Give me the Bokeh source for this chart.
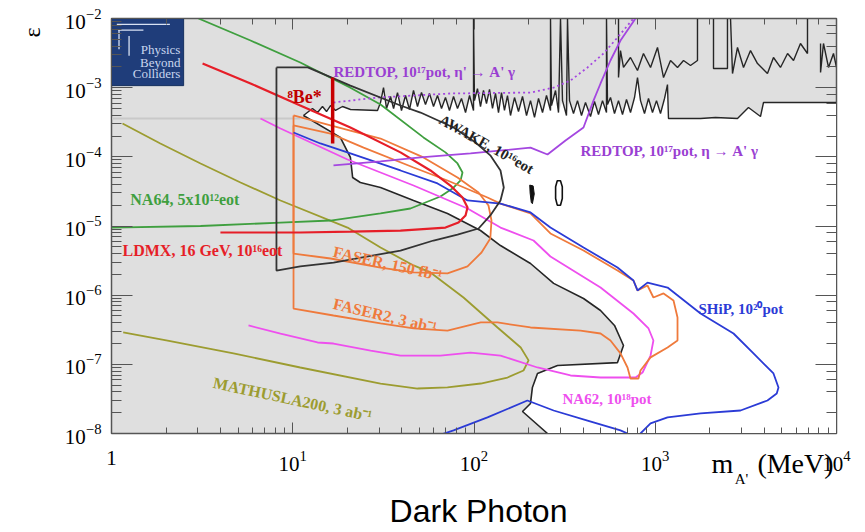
import numpy as np
from bokeh.plotting import figure
from bokeh.models import LogAxis, Label, Range1d, LogTickFormatter, FixedTicker
from bokeh.embed import file_html
from bokeh.resources import INLINE

# ---------------- data (m in MeV, epsilon) ----------------
# upper unexplored-region boundary (jagged existing limits)
jag_m = [11.46, 12.85, 13.70, 14.59, 15.36, 16.16, 17.21, 18.82, 20.83, 29.35,
         30.49, 31.68, 32.91, 34.62, 36.0, 37.84, 39.81, 41.89, 44.07, 46.37,
         48.79, 51.32, 54.0, 56.8, 59.8, 62.9, 66.2, 69.6, 73.2, 77.1,
         81.1, 85.3, 89.8, 94.5, 99.4, 99.4, 100.6, 104.5, 108.6, 112.8,
         117.2, 121.8, 126.5, 131.4, 136.5, 141.8, 147.3, 153.0, 159.0, 167.3,
         176.0, 185.2, 194.9, 205, 215.7, 227.0, 238.8, 251.2, 264.3, 264.3,
         267.7, 281.7, 292.6, 300.1, 307.8, 323.8, 328.0, 336.5, 354.0, 372.4,
         391.8, 412.3, 439.3, 462.2, 486.3, 511.7, 538.3, 538.3, 545.3, 566.4,
         596.0, 627.0, 659.7, 694.1, 730.3, 768.4, 798.2, 829.2, 872.4, 917.9,
         965.7, 1016, 1069, 1125, 1168, 1183, 1777, 2150, 2843, 3269,
         3808, 3956, 10000]
jag_eps = [3.96e-4, 5.0e-4, 4.37e-4, 5.34e-4, 4.52e-4, 5.52e-4, 4.68e-4, 5.34e-4, 4.83e-4, 4.68e-4,
           6.1e-4, 1.0e-3, 5.0e-4, 7.45e-4, 5.0e-4, 8.5e-4, 4.68e-4, 7.7e-4, 4.83e-4, 9.1e-4,
           5.34e-4, 8.5e-4, 5.71e-4, 8.24e-4, 5.34e-4, 7.7e-4, 5.0e-4, 7.2e-4, 4.68e-4, 7.45e-4,
           5.0e-4, 6.97e-4, 4.37e-4, 7.7e-4, 4.68e-4, 1e-2, 6.5e-4, 9.7e-4, 5.34e-4, 9.1e-4,
           5.9e-4, 9.42e-4, 5.0e-4, 8.24e-4, 4.37e-4, 8.5e-4, 4.68e-4, 7.7e-4, 3.96e-4, 7.2e-4,
           4.52e-4, 7.45e-4, 3.96e-4, 6.5e-4, 3.71e-4, 6.97e-4, 4.37e-4, 7.7e-4, 4.68e-4, 1e-2,
           5.52e-4, 9.1e-4, 4.37e-4, 1e-2, 6.5e-4, 3.96e-4, 1e-2, 6.5e-4, 4.23e-4, 6.5e-4,
           3.96e-4, 6.1e-4, 3.83e-4, 6.31e-4, 4.09e-4, 6.5e-4, 4.37e-4, 1e-2, 5.71e-4, 7.2e-4,
           4.23e-4, 6.5e-4, 4.09e-4, 6.74e-4, 4.37e-4, 7.2e-4, 1.40e-3, 6.5e-4, 4.23e-4, 6.97e-4,
           4.37e-4, 6.5e-4, 4.23e-4, 6.97e-4, 1.11e-3, 3.58e-4, 3.58e-4, 3.71e-4, 3.58e-4, 5.16e-4,
           3.83e-4, 6.1e-4, 6.1e-4]

# lower boundary of the unexplored region (beam-dump limits), right to left
low_m = [10000, 254.4, 185.2, 205, 210, 224, 288.9, 619, 668, 596, 499, 402, 275,
         205, 140, 108.6, 71.4, 46.4, 30.5, 23.6, 21.4, 20.8, 18.3, 11.46]
low_eps = [1e-8, 1e-8, 2.08e-8, 2.72e-8, 4.63e-8, 7.38e-8, 9.62e-8, 1.06e-7, 1.87e-7,
           3.65e-7, 6.0e-7, 8.95e-7, 1.48e-6, 2.87e-6, 5.22e-6, 8.61e-6, 1.52e-5,
           2.34e-5, 3.6e-5, 4.26e-5, 5.02e-5, 9.8e-5, 1.91e-4, 3.96e-4]

# upper jagged limits inside the excluded band
segA_m = [627, 627, 643, 668, 730, 798, 861, 942, 1029, 1111, 1214, 1327, 1432, 1565, 1710, 1710]
segA_eps = [1e-2, 1.40e-3, 3.44e-3, 1.96e-3, 2.73e-3, 1.77e-3, 3.12e-3, 1.96e-3, 3.81e-3,
            1.40e-3, 2.47e-3, 1.96e-3, 2.47e-3, 2.09e-3, 2.47e-3, 1e-2]
segB_m = [2096, 2096, 2503, 2503]
segB_eps = [1e-2, 1.89e-3, 1.89e-3, 1e-2]
segC_m = [2602, 2668, 2843, 3069, 3354, 3666, 4160, 4490, 4909, 5370, 5793, 6327, 6918, 6918]
segC_eps = [1e-2, 1.60e-3, 3.81e-3, 1.96e-3, 3.44e-3, 2.23e-3, 1.60e-3, 2.73e-3, 1.96e-3,
            3.12e-3, 2.47e-3, 4.35e-3, 3.12e-3, 1e-2]
segD_m = [8166, 8166, 8476, 9036, 9624, 10000]
segD_eps = [4.35e-3, 1.66e-3, 4.35e-3, 1.96e-3, 3.12e-3, 1.96e-3]

# faint old-limit line at left
old_m = [1.0, 11.0]
old_eps = [3.58e-4, 3.58e-4]

# AWAKE, 10^16 eot
awake_m = [8.13, 12.1, 20.8, 39.3, 50.7, 77.1, 102, 123, 140, 146, 140, 123, 106, 81.1,
           59.8, 39.3, 16.8, 11.0, 8.13, 8.13]
awake_eps = [1.96e-3, 1.96e-3, 1.07e-3, 5.52e-4, 4.37e-4, 2.66e-4, 1.61e-4, 1.05e-4, 6.35e-5,
             3.6e-5, 2.34e-5, 1.42e-5, 9.2e-6, 7.5e-6, 6.17e-6, 4.42e-6, 2.96e-6, 2.6e-6,
             2.27e-6, 1.96e-3]
blob1_m = [203, 212, 215, 210, 207, 204]
blob1_eps = [3.9e-5, 3.8e-5, 2.9e-5, 2.1e-5, 2.2e-5, 3.0e-5]
blob2_m = [288, 300, 307, 307, 300, 288, 282, 282, 288]
blob2_eps = [4.5e-5, 4.5e-5, 3.7e-5, 2.5e-5, 2.0e-5, 2.0e-5, 2.5e-5, 3.7e-5, 4.5e-5]

# NA64, 5x10^12 eot
na64_m = [3.02, 5.85, 11.0, 20.8, 30.5, 52.6, 69.6, 81.1, 86.4, 84.3, 76.1, 65.3, 57.5,
          44.6, 30.5, 16.16, 8.56, 3.10, 1.0]
na64_eps = [1e-2, 4.81e-3, 2.31e-3, 1.0e-3, 5.71e-4, 1.91e-4, 1.16e-4, 8.02e-5, 5.94e-5,
            4.55e-5, 3.48e-5, 2.67e-5, 2.34e-5, 1.79e-5, 1.52e-5, 1.20e-5, 1.12e-5, 1.0e-5, 9.5e-6]

# LDMX, 16 GeV, 10^16 eot
ldmx_m = [3.18, 5.85, 11.0, 20.8, 39.3, 57.5, 74.1, 86.4, 92.1, 89.8, 82.1, 69.6, 39.3,
          20.8, 11.0, 3.99]
ldmx_eps = [2.23e-3, 1.15e-3, 5.52e-4, 2.66e-4, 1.16e-4, 6.35e-5, 3.85e-5, 2.58e-5, 1.85e-5,
            1.42e-5, 1.12e-5, 9.5e-6, 8.6e-6, 8.3e-6, 8.06e-6, 8.06e-6]

# 8Be* anomaly
be8_m = [16.6, 16.6]
be8_eps = [1.40e-3, 1.56e-4]

# REDTOP eta -> A' gamma (solid) and eta' -> A' gamma (dotted)
redtop_eta_m = [16.78, 30.5, 50.7, 95.7, 205, 254.4, 319.8, 401.9, 456.3, 499, 566, 643, 778]
redtop_eta_eps = [7.5e-5, 8.57e-5, 9.8e-5, 1.12e-4, 1.36e-4, 1.08e-4, 1.72e-4, 2.66e-4,
                  6.5e-4, 1.15e-3, 2.47e-3, 4.81e-3, 1e-2]
redtop_etap_m = [16.78, 29.35, 74.1, 205, 274.6, 341, 422.9, 518.2, 619, 758]
redtop_etap_eps = [6.1e-4, 7.2e-4, 8.24e-4, 8.5e-4, 1.0e-3, 1.27e-3, 1.96e-3, 3.12e-3,
                   5.31e-3, 1e-2]

# NA62, 10^18 pot
na62_m = [6.64, 8.56, 20.05, 46.4, 92.1, 140, 213, 264, 499, 758, 918, 977, 942, 851, 778,
          499, 341, 224, 140, 95.7, 65.3, 39.3, 26.9, 16.78, 13.7, 8.56, 5.70]
na62_eps = [3.58e-4, 2.57e-4, 9.16e-5, 3.85e-5, 1.79e-5, 9.5e-6, 6.17e-6, 3.62e-6, 1.29e-6,
            5.43e-7, 3.3e-7, 2.21e-7, 1.34e-7, 7.62e-8, 6.45e-8, 6.45e-8, 6.9e-8, 9.0e-8,
            1.34e-7, 1.48e-7, 1.34e-7, 1.34e-7, 1.58e-7, 2.0e-7, 2.07e-7, 2.79e-7, 3.65e-7]

# SHiP, 10^20 pot
ship_m = [10.1, 14.2, 20.8, 39.3, 62.9, 92.1, 140, 205, 264, 402,
          619, 758, 798, 906, 1169, 1778, 2703, 3483, 4490, 4786,
          4680, 4160, 2954, 1778, 1169, 942, 829, 769, 703, 643,
          423, 275, 197, 118.7, 77.1, 61.3]
ship_eps = [2.25e-4, 1.56e-4, 1.12e-4, 6.35e-5, 4.12e-5, 2.34e-5, 2.11e-5, 1.57e-5, 9.5e-6, 4.89e-6,
            2.51e-6, 1.63e-6, 1.17e-6, 1.52e-6, 1.29e-6, 5.43e-7, 2.79e-7, 1.44e-7, 7.38e-8, 4.63e-8,
            3.79e-8, 3.0e-8, 2.15e-8, 1.95e-8, 1.71e-8, 1.40e-8, 1.0e-8, 7.4e-9, 1.0e-8, 1.11e-8,
            1.54e-8, 2.15e-8, 3.0e-8, 1.71e-8, 1.11e-8, 9.06e-9]

# FASER, 150 fb^-1
faser_m = [10.1, 16.16, 30.5, 52.6, 81.1, 105.9, 120.2, 124.9, 123, 110, 92.1, 71.4, 46.4,
           30.5, 16.16, 10.1, 10.1]
faser_eps = [3.96e-4, 2.84e-4, 1.84e-4, 9.8e-5, 5.02e-5, 3.05e-5, 1.98e-5, 1.2e-5, 6.59e-6,
             4.14e-6, 2.6e-6, 2.06e-6, 2.13e-6, 2.51e-6, 3.39e-6, 4.0e-6, 3.96e-4]

# FASER2, 3 ab^-1
faser2_m = [10.1, 16.16, 24.6, 46.4, 71.4, 118.7, 140, 205, 264, 402,
            619, 758, 798, 906, 977, 1111, 1261, 1327, 1327, 1169,
            942, 829, 808, 730, 703, 643, 566, 499, 387, 205,
            134.8, 109, 71.4, 46.4, 30.5, 16.78, 10.1, 10.1]
faser2_eps = [2.84e-4, 2.17e-4, 1.36e-4, 7.01e-5, 4.55e-5, 2.58e-5, 2.11e-5, 1.52e-5, 7.8e-6, 4.42e-6,
              2.27e-6, 1.63e-6, 1.17e-6, 1.38e-6, 9.25e-7, 1.06e-6, 8.37e-7, 4.75e-7, 2.21e-7, 1.75e-7,
              1.26e-7, 8.15e-8, 6.24e-8, 6.24e-8, 9.0e-8, 1.44e-7, 2.21e-7, 2.79e-7, 3.08e-7, 3.41e-7,
              4.03e-7, 4.03e-7, 3.08e-7, 3.3e-7, 3.9e-7, 5.08e-7, 6.41e-7, 2.84e-4]

# MATHUSLA200, 3 ab^-1
mathusla_m = [1.15, 1.86, 3.10, 5.15, 8.56, 20.05, 30.5, 46.4, 57.5, 87.5, 134.8, 181, 200,
              187.6, 153, 109, 71.4, 48.8, 30.5, 11.0, 4.71, 2.04, 1.16]
mathusla_eps = [3.03e-4, 1.56e-4, 8.02e-5, 4.26e-5, 2.34e-5, 9.5e-6, 4.89e-6, 2.69e-6, 2.13e-6,
                9.25e-7, 3.41e-7, 1.75e-7, 1.14e-7, 8.15e-8, 6.45e-8, 5.28e-8, 4.63e-8, 4.47e-8,
                5.28e-8, 9.0e-8, 1.44e-7, 2.21e-7, 2.89e-7]

# curve labels
lab_text = ["NA64, 5x10\u00b9\u00b2eot", "LDMX, 16 GeV, 10\u00b9\u2076eot", "\u2078Be*",
            "REDTOP, 10\u00b9\u2077pot, \u03b7' \u2192 A' \u03b3", "AWAKE, 10\u00b9\u2076eot",
            "REDTOP, 10\u00b9\u2077pot, \u03b7 \u2192 A' \u03b3", "FASER, 150 fb\u207b\u00b9",
            "FASER2, 3 ab\u207b\u00b9", "MATHUSLA200, 3 ab\u207b\u00b9", "NA62, 10\u00b9\u2078pot",
            "SHiP, 10\u00b2\u2070pot"]
lab_m = [1.27, 1.15, 9.35, 16.78, 65.3, 387, 16.78, 16.78, 3.65, 307.8, 1732]
lab_eps = [2.42e-5, 4.42e-6, 7.45e-4, 1.66e-3, 3.58e-4, 1.23e-4, 4.28e-6, 7.58e-7, 5.47e-8,
           3.2e-8, 6.41e-7]
lab_color = ["#3f9f3f", "#e61e28", "#c00000", "#9a3fd2", "#222222", "#9a3fd2", "#ef7a3c",
             "#ef7a3c", "#9c9c30", "#ee4fee", "#2b3bd6"]
lab_angle = [0, 0, 0, 0, -0.51, 0, -0.22, -0.23, -0.21, 0, 0]
lab_size = ["16px", "16px", "18px", "15px", "15px", "15px", "16px", "16px", "16px", "15px", "15px"]

# axis titles and caption: text and the axis value at which each is centred
ytitle_eps = [7.4e-3]
ytitle_text = ["\u03b5"]
xtitle_m = [2350.0, 5940.0]
xtitle_text = ["m", "(MeV)"]
xsub_m = [2992.0]
xsub_text = ["A'"]
caption_m = [105.9]
caption_text = ["Dark Photon"]

GREY = "#dfdfdf"
BLACK = "#262626"

p = figure(x_axis_type="log", y_axis_type="log",
           x_range=Range1d(1, 1e4), y_range=Range1d(1e-8, 1e-2),
           frame_width=725, frame_height=415,
           min_border_left=111, min_border_right=29, min_border_top=18, min_border_bottom=99,
           output_backend="svg", toolbar_location=None,
           background_fill_color=GREY, border_fill_color="white")
p.grid.visible = False
p.outline_line_color = "#555555"
p.outline_line_width = 1.5

# white (unexplored) region
keep = [i for i in range(len(jag_m)) if jag_eps[i] < 1e-2]
white_m = [jag_m[i] for i in keep] + low_m
white_eps = [jag_eps[i] for i in keep] + low_eps
p.patch(white_m, white_eps, fill_color="white", line_color=None)

p.line(old_m, old_eps, line_color="#c9c9c9", line_width=2)

# black existing-limit lines
p.line(jag_m, jag_eps, line_color=BLACK, line_width=1.4)
p.line(low_m[1:], low_eps[1:], line_color=BLACK, line_width=1.6)
p.multi_line([segA_m, segB_m, segC_m, segD_m], [segA_eps, segB_eps, segC_eps, segD_eps],
             line_color=BLACK, line_width=1.4)

# projections
p.line(mathusla_m, mathusla_eps, line_color="#9c9c30", line_width=1.8)
p.line(na64_m, na64_eps, line_color="#3f9f3f", line_width=1.8)
p.line(na62_m, na62_eps, line_color="#ee4fee", line_width=1.8)
p.line(faser_m, faser_eps, line_color="#ef7a3c", line_width=1.8)
p.line(faser2_m, faser2_eps, line_color="#ef7a3c", line_width=1.8)
p.line(ship_m, ship_eps, line_color="#2b3bd6", line_width=1.8)
p.line(ldmx_m, ldmx_eps, line_color="#e61e28", line_width=2.2)
p.line(redtop_eta_m, redtop_eta_eps, line_color="#a447e0", line_width=1.8)
p.line(redtop_etap_m, redtop_etap_eps, line_color="#a447e0", line_width=1.8, line_dash="2 3")
p.line(awake_m, awake_eps, line_color="#333333", line_width=1.8)
p.patch(blob1_m, blob1_eps, fill_color="#111111", line_color="#111111", line_width=1)
p.patch(blob2_m, blob2_eps, fill_color=None, line_color="#111111", line_width=1.6)
p.line(be8_m, be8_eps, line_color="#c80000", line_width=3.5)

for t, xm, ye, c, a, s in zip(lab_text, lab_m, lab_eps, lab_color, lab_angle, lab_size):
    p.add_layout(Label(x=xm, y=ye, text=t, text_color=c, angle=a, text_font="Liberation Serif",
                       text_font_style="bold", text_font_size=s,
                       text_baseline="middle" if a != 0 else "alphabetic"))

# Physics Beyond Colliders logo
p.quad(left=[1.0], right=[2.50], top=[1e-2], bottom=[1.07e-3], fill_color="#1f3d7a",
       line_color="#16305f")
p.multi_line([[1.07, 2.1], [1.09, 1.5], [1.10, 1.10], [1.25, 1.25]],
             [[8.2e-3, 8.2e-3], [6.8e-3, 6.8e-3], [6.8e-3, 3.6e-3], [5.6e-3, 2.9e-3]],
             line_color="#d8e2f4", line_width=1.3)
for t, ye in zip(["Physics", "Beyond", "Colliders"], [2.73e-3, 1.83e-3, 1.23e-3]):
    p.add_layout(Label(x=2.40, y=ye, text=t, text_align="right", text_color="#c9d6ee",
                       text_font="Liberation Serif", text_font_size="13px"))

# axes
fmt = LogTickFormatter(min_exponent=1)
xa = p.xaxis[0]
xa.formatter = fmt
xa.major_tick_in = 11; xa.major_tick_out = 0
xa.minor_tick_in = 6; xa.minor_tick_out = 0
xa.major_label_standoff = 17
ya = p.yaxis[0]
ya.major_tick_in = 21; ya.major_tick_out = 0
ya.minor_tick_in = 10; ya.minor_tick_out = 0
ya.major_label_standoff = 10
for ax in (xa, ya):
    ax.major_label_text_font = "Liberation Serif"
    ax.major_label_text_font_size = "21px"
    ax.major_label_text_color = "black"
    ax.axis_line_color = "#555555"
    ax.major_tick_line_color = "#555555"
    ax.minor_tick_line_color = "#555555"

top_ax = LogAxis(major_tick_in=11, major_tick_out=0, minor_tick_in=6, minor_tick_out=0,
                 major_label_text_font_size="6px", major_label_text_alpha=0.0,
                 major_label_standoff=0,
                 axis_line_color="#555555", major_tick_line_color="#555555",
                 minor_tick_line_color="#555555")
right_ax = LogAxis(major_tick_in=21, major_tick_out=0, minor_tick_in=10, minor_tick_out=0,
                   major_label_text_font_size="6px", major_label_text_alpha=0.0,
                   major_label_standoff=0,
                   axis_line_color="#555555", major_tick_line_color="#555555",
                   minor_tick_line_color="#555555")
p.add_layout(top_ax, "above")
p.add_layout(right_ax, "right")


def title_axis(ticks, texts, size, font, standoff, orient="horizontal"):
    """A bare axis whose only labels are the given titles."""
    return LogAxis(ticker=FixedTicker(ticks=ticks, minor_ticks=[]),
                   major_label_overrides=dict(zip(ticks, texts)),
                   major_label_text_font=font, major_label_text_font_size=size,
                   major_label_text_color="black", major_label_standoff=standoff,
                   major_label_orientation=orient,
                   axis_line_color=None, major_tick_line_color=None, minor_tick_line_color=None,
                   major_tick_in=0, major_tick_out=0, minor_tick_in=0, minor_tick_out=0)


p.add_layout(title_axis(ytitle_eps, ytitle_text, "24px", "Liberation Serif", 29, np.pi / 2), "left")
p.add_layout(title_axis(xtitle_m, xtitle_text, "28px", "Liberation Serif", -26), "below")
p.add_layout(title_axis(xsub_m, xsub_text, "15px", "Liberation Serif", -11), "below")
p.add_layout(title_axis(caption_m, caption_text, "32px", "Liberation Sans", 3), "below")

open("out.html", "w").write(file_html(p, INLINE))
